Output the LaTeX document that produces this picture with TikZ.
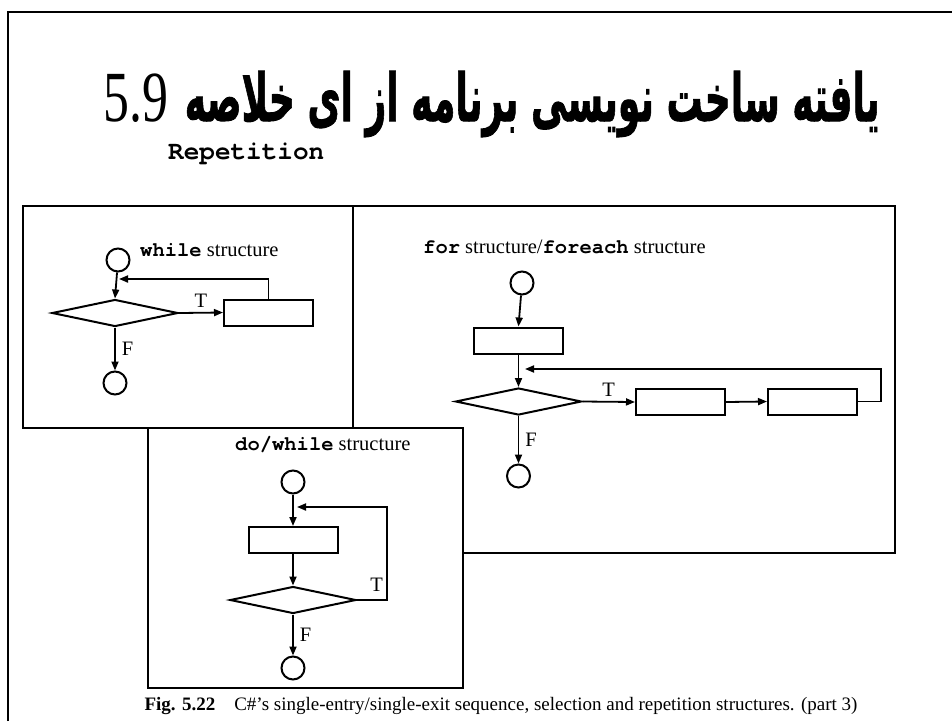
\documentclass[tikz,border=0pt]{standalone}
\usepackage{fontspec}
\usepackage{graphicx}
\setmainfont{Liberation Serif}
\setmonofont{texgyrecursor}[Extension=.otf,UprightFont=*-regular,BoldFont=*-bold]
\newfontfamily\arabicfont[Script=Arabic,FakeBold=1.5]{DejaVu Sans}
\TeXXeTstate=1
\usetikzlibrary{shapes.geometric,arrows.meta}
\begin{document}
\begin{tikzpicture}[x=1pt,y=-1pt,
  term/.style={circle,draw,line width=2pt,minimum size=23pt,inner sep=0pt},
  proc/.style={rectangle,draw,line width=2pt,minimum width=89pt,minimum height=26pt,inner sep=0pt},
  dec/.style={diamond,draw,line width=2pt,minimum width=126pt,minimum height=27pt,inner sep=0pt},
  arr/.style={line width=1.8pt,-{Triangle[length=9pt,width=7pt]}},
  frame/.style={draw,line width=2.5pt},
  lbl/.style={font=\fontsize{20.5}{24}\selectfont,inner sep=0pt},
  tf/.style={font=\fontsize{20.5}{24}\selectfont,inner sep=0pt},
]
\useasboundingbox (0,0) rectangle (952,721);
\fill[white] (0,0) rectangle (952,721);
% outer frame
\draw[line width=2.5pt] (8,721) -- (8,12) -- (952,12);

% title
\node[inner sep=0pt,anchor=base west] (tnum) at (103,121) {\scalebox{0.72}[1]{\fontsize{72}{76}\selectfont 5.9}};
\node[inner sep=0pt,anchor=base east] (tfa) at (880,121) {\resizebox{695pt}{\height}{\arabicfont\bfseries\fontsize{66}{70}\selectfont \beginR خلاصه\endR{} \beginR ای\endR{} \beginR از\endR{} \beginR برنامه\endR{} \beginR نویسی\endR{} \beginR ساخت\endR{} \beginR یافته\endR}};
\node[anchor=west,inner sep=0pt,font=\ttfamily\bfseries\fontsize{26}{28}\selectfont] (rep) at (168,154) {Repetition};

% frames
\draw[frame] (353,206) rectangle (895,553);
\draw[frame] (23,206) rectangle (353,428);
\draw[frame,fill=white] (148,428) rectangle (463,688);

% while structure
\node[lbl,anchor=west] (wtxt) at (140,250) {\texttt{\bfseries while} structure};
\node[term] (ws) at (118,260) {};
\node[dec] (wd) at (115,313) {};
\node[proc] (wr) at (268.5,312.5) {};
\node[term] (we) at (115,383) {};
\coordinate (wl) at (119,279);
\draw[arr] (ws) -- (wd.north);
\draw[arr] (wd.east) -- (wr.west) node[tf,midway,above=4pt] (wT) {T};
\draw[arr] (wr.north) |- (wl);
\draw[arr] (wd.south) -- (we.north) node[tf,midway,right=6pt] (wF) {F};

% for structure
\node[lbl,anchor=west] (ftxt) at (423,247) {\texttt{\bfseries for} structure/\texttt{\bfseries foreach} structure};
\node[term] (fs) at (522,283) {};
\node[proc] (fi) at (518.5,340.5) {};
\node[dec] (fd) at (518.5,401.5) {};
\node[proc] (f2) at (680.5,402) {};
\node[proc] (f3) at (812.5,401.5) {};
\node[term] (fe) at (518.5,476) {};
\coordinate (fl) at (525,369);
\draw[arr] (fs) -- (fi.north);
\draw[arr] (fi.south) -- (fd.north);
\draw[arr] (fd.east) -- (f2.west) node[tf,midway,above=4pt] (fT) {T};
\draw[arr] (f2.east) -- (f3.west);
\draw[arr] (f3.east) -- (881,401.5) |- (fl);
\draw[arr] (fd.south) -- (fe.north) node[tf,midway,right=6pt] (fF) {F};

% do/while structure
\node[lbl,anchor=west] (dtxt) at (235,445) {\texttt{\bfseries do/while} structure};
\node[term] (ds) at (293,482) {};
\node[proc] (dr) at (293,540) {};
\node[dec] (dd) at (293,600) {};
\node[term] (de) at (293,668) {};
\coordinate (dl) at (297,507);
\draw[arr] (ds) -- (dr.north);
\draw[arr] (dr.south) -- (dd.north);
\draw[arr] (dd.east) -- (387,600) |- (dl);
\node[tf,anchor=south east] (dT) at (383,592) {T};
\draw[arr] (dd.south) -- (de.north) node[tf,midway,right=6pt] (dF) {F};

% caption
\node[inner sep=0pt,font=\fontsize{19}{22}\selectfont] (cap) at (501,706) {\textbf{Fig. 5.22}\quad C\#’s single-entry/single-exit sequence, selection and repetition structures. (part 3)};
\end{tikzpicture}
\end{document}
